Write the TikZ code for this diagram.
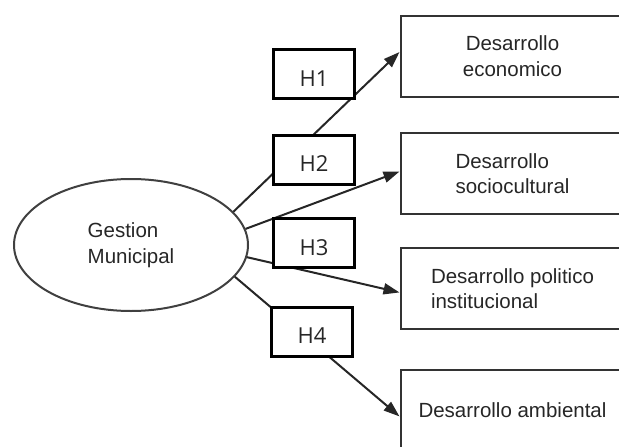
\documentclass[tikz,border=0pt]{standalone}
\usepackage{fontspec}
\setmainfont{Liberation Sans}
\newfontfamily\hypfont{Open Sans}
\usetikzlibrary{arrows.meta,shapes.geometric}

\tikzset{
    dimension/.style={draw=black!80, line width=2pt, minimum width=224pt,
        minimum height=81pt, inner sep=0pt},
    hyp/.style={draw=black, line width=3pt, fill=white, minimum width=81pt,
        minimum height=49pt, inner sep=0pt, text height=24pt, text depth=0pt,
        font=\hypfont\fontsize{22}{26}\selectfont},
    relation/.style={draw=black!85, line width=2pt,
        -{Triangle[length=16pt,width=11pt]}}
}

\begin{document}
\begin{tikzpicture}
    [x=1pt, y=-1pt, font=\fontsize{20.5}{25.5}\selectfont, text=black!85]
    \useasboundingbox (0,0) rectangle (619,447);
    \node [ellipse, draw=black!75, line width=2pt, minimum width=234pt,
        minimum height=132pt, inner sep=0pt, align=left] (gestion) at (131,245)
        {Gestion\\Municipal};
    \node [dimension, align=center] (eco) at (512.5,56) {Desarrollo\\economico};
    \node [dimension, align=left] (soc) at (512.5,173.5) {Desarrollo\\sociocultural};
    \node [dimension, align=left] (pol) at (512.5,288.5) {Desarrollo politico\\institucional};
    \node [dimension] (amb) at (512.5,410.5) {Desarrollo ambiental};
    % relations
    \draw [relation] (gestion.18) -- (eco.178);
    \draw [relation] (gestion.8) -- (soc.179);
    \draw [relation] (gestion.-6) -- (pol.182);
    \draw [relation] (gestion.-17) -- (amb.183);
    % hypotheses
    \node [hyp] (h1) at (314,74) {H1};
    \node [hyp] (h2) at (314,159.5) {H2};
    \node [hyp] (h3) at (314,243) {H3};
    \node [hyp] (h4) at (312,331.5) {H4};
\end{tikzpicture}
\end{document}
